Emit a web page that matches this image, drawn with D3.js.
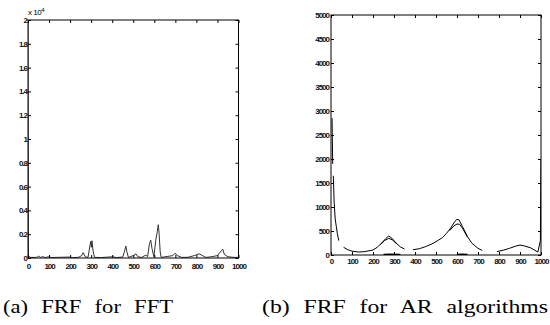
<!DOCTYPE html>
<html>
<head>
<meta charset="utf-8">
<script src="https://cdn.jsdelivr.net/npm/d3@7"></script>
<style>
  body { margin: 0; background: #fff; }
  .tick text { font-family: "Liberation Sans", Arial, sans-serif; font-size: 8px; font-weight: bold; letter-spacing: -1px; fill: #111; }
  .caption { font-family: "Liberation Serif", "Times New Roman", serif; font-size: 18px; word-spacing: 6px; fill: #000; }
</style>
</head>
<body>
<script>
// ---- data (frequency, amplitude); null amplitude = gap in the printed trace ----
const freqTicks = [0, 100, 200, 300, 400, 500, 600, 700, 800, 900, 1000];
const fftTicks = [0, 0.2, 0.4, 0.6, 0.8, 1, 1.2, 1.4, 1.6, 1.8, 2];   // x 10^4
const arTicks = [0, 500, 1000, 1500, 2000, 2500, 3000, 3500, 4000, 4500, 5000];
const captionA = '(a) FRF for FFT';
const captionB = '(b) FRF for AR algorithms';

// FFT spectrum, amplitude in units of 10^4
const fftSpectrum = [
  [0, 2.0], [2, 0.02], [10, 0.005], [40, 0.005], [50, 0.015], [60, 0.005], [70, 0.012],
  [80, 0.004], [100, 0.01], [110, 0.004], [150, 0.006], [200, 0.008], [210, 0.003],
  [240, 0.006], [255, 0.02], [262, 0.045], [272, 0.01], [285, 0.005], [294, 0.1],
  [298, 0.14], [301, 0.09], [304, 0.145], [309, 0.06], [316, 0.005], [350, 0.004],
  [400, 0.01], [420, 0.004], [450, 0.008], [459, 0.06], [465, 0.1], [470, 0.05],
  [477, 0.005], [500, 0.02], [513, 0.035], [522, 0.01], [540, 0.005], [560, 0.025],
  [568, 0.01], [577, 0.12], [583, 0.15], [589, 0.08], [598, 0.01], [607, 0.15],
  [614, 0.22], [619, 0.28], [623, 0.2], [628, 0.05], [633, 0.005], [650, 0.01],
  [670, 0.015], [688, 0.02], [698, 0.04], [710, 0.02], [730, 0.005], [760, 0.006],
  [790, 0.02], [812, 0.035], [830, 0.02], [845, 0.005], [870, 0.01], [900, 0.02],
  [918, 0.06], [925, 0.075], [933, 0.03], [950, 0.01], [980, 0.005], [1000, 0.005]
];

// AR spectrum (higher order, outer trace)
const arSpectrum = [
  [5, 2850], [8, 1900], [9, null], [11, 1650], [15, 1100], [20, 750], [25, 600],
  [30, 450], [37, 300], [45, null],
  [60, 160], [80, 110], [100, 80], [130, 62], [160, 70], [200, 104], [220, 160],
  [240, 243], [260, 340], [275, 396], [290, 350], [310, 250], [330, 170], [350, 125],
  [365, null],
  [390, 110], [420, 130], [450, 174], [480, 230], [500, 278], [530, 360], [550, 451],
  [570, 560], [590, 700], [600, 743], [610, 730], [625, 600], [650, 382], [670, 250],
  [700, 139], [720, 95], [740, null],
  [790, 70], [820, 100], [850, 139], [880, 185], [900, 208], [920, 190], [950, 150],
  [970, 100], [985, 60], [997, 300], [1000, 2000]
];

// AR spectrum (lower order, inner trace near the two main peaks)
const arInnerA = [[235, 215], [255, 300], [275, 347], [292, 315], [312, 235]];
const arInnerB = [[565, 510], [585, 605], [600, 645], [612, 640], [628, 545], [650, 370]];
// residual trace lying on the zero line
const arResidualA = [[250, 12], [280, 18], [330, 12]];
const arResidualB = [[600, 12], [625, 18], [650, 12]];

// ---- layout ----
const width = 550, height = 325;
const svg = d3.select('body').append('svg')
  .attr('width', width)
  .attr('height', height);

function panel(box, yDomain, yTicks, yFormat, opts) {
  const x = d3.scaleLinear().domain([0, 1000]).range([box.left, box.right]);
  const y = d3.scaleLinear().domain(yDomain).range([box.bottom, box.top]);
  const g = svg.append('g');

  // clip traces to the axes box
  const clipId = 'clip' + box.left;
  svg.append('clipPath').attr('id', clipId)
    .append('rect')
    .attr('x', box.left).attr('y', box.top)
    .attr('width', box.right - box.left).attr('height', box.bottom - box.top);

  const line = d3.line()
    .defined(d => d[1] !== null)
    .x(d => x(d[0]))
    .y(d => y(d[1]));

  opts.series.forEach(s => {
    g.append('path')
      .datum(s.data)
      .attr('clip-path', `url(#${clipId})`)
      .attr('fill', 'none')
      .attr('stroke', s.color)
      .attr('stroke-width', s.width)
      .attr('d', line);
  });

  // axes, MATLAB style: ticks pointing in on all four sides
  g.append('g')
    .attr('transform', `translate(0,${box.bottom})`)
    .call(d3.axisBottom(x).tickValues(freqTicks).tickSizeInner(-3).tickSizeOuter(0)
      .tickPadding(opts.xPad).tickFormat(d3.format('d')))
    .call(a => a.select('.domain').remove());
  g.append('g')
    .attr('transform', `translate(0,${box.top})`)
    .call(d3.axisTop(x).tickValues(freqTicks).tickSizeInner(-3).tickSizeOuter(0).tickFormat(''))
    .call(a => a.select('.domain').remove());
  g.append('g')
    .attr('transform', `translate(${box.left},0)`)
    .call(d3.axisLeft(y).tickValues(yTicks).tickSizeInner(-3).tickSizeOuter(0)
      .tickPadding(opts.yPad).tickFormat(yFormat))
    .call(a => a.select('.domain').remove());
  g.append('g')
    .attr('transform', `translate(${box.right},0)`)
    .call(d3.axisRight(y).tickValues(yTicks).tickSizeInner(-3).tickSizeOuter(0).tickFormat(''))
    .call(a => a.select('.domain').remove());

  g.append('rect')
    .attr('x', box.left).attr('y', box.top)
    .attr('width', box.right - box.left).attr('height', box.bottom - box.top)
    .attr('fill', 'none')
    .attr('stroke', '#000')
    .attr('stroke-width', 1);

  g.selectAll('.tick line').attr('stroke', '#000');
  return { x, y, g };
}

// (a) FFT
panel({ left: 28, right: 238.5, top: 20, bottom: 258 }, [0, 2], fftTicks,
  d => d === 0 ? '0' : String(+d.toFixed(1)),
  { xPad: 5, yPad: 1, series: [{ data: fftSpectrum, color: '#333', width: 1 }] });

// exponent label above the y axis
const expo = svg.append('text')
  .attr('x', 28).attr('y', 15)
  .style('font-family', '"Liberation Sans", Arial, sans-serif')
  .style('font-size', '8px')
  .style('letter-spacing', '-0.5px');
expo.append('tspan').text('x 10');
expo.append('tspan').attr('dy', -3).style('font-size', '6px').text('4');

// (b) AR
panel({ left: 331, right: 541, top: 15, bottom: 255 }, [0, 5000], arTicks,
  d => String(d),
  { xPad: 3, yPad: 2, series: [
    { data: arSpectrum, color: '#000', width: 1 },
    { data: arInnerA, color: '#000', width: 1 },
    { data: arInnerB, color: '#000', width: 1 },
    { data: arResidualA, color: '#000', width: 1.5 },
    { data: arResidualB, color: '#000', width: 1.5 }
  ] });

// captions (scanned print is stretched horizontally)
svg.append('text').attr('class', 'caption')
  .attr('x', 3).attr('y', 313)
  .attr('textLength', 170).attr('lengthAdjust', 'spacingAndGlyphs')
  .text(captionA);
svg.append('text').attr('class', 'caption')
  .attr('x', 262).attr('y', 313)
  .attr('textLength', 286).attr('lengthAdjust', 'spacingAndGlyphs')
  .text(captionB);
</script>
</body>
</html>
